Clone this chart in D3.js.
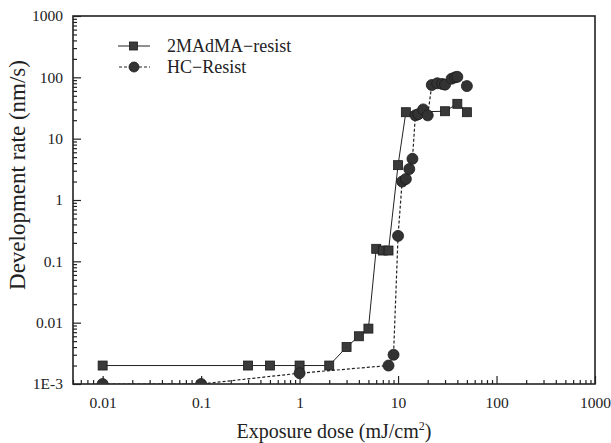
<!DOCTYPE html>
<html>
<head>
<meta charset="utf-8">
<script src="https://cdn.jsdelivr.net/npm/d3@7"></script>
<style>
  body { margin: 0; background: #fff; }
  text { font-family: "Liberation Serif", "DejaVu Serif", serif; fill: #222; }
</style>
</head>
<body>
<svg id="chart" width="611" height="443"></svg>
<script>
// 2MAdMA-resist (squares, solid line)
var madmaDose = [0.01, 0.3, 0.5, 1, 2, 3, 4, 5, 6, 7, 8, 10, 12, 30, 40, 50];
var madmaRate = [0.002, 0.002, 0.002, 0.002, 0.002, 0.004, 0.006, 0.008, 0.16, 0.15, 0.15, 3.7, 27, 28, 37, 27];
// HC-Resist (circles, dashed line)
var hcDose = [0.01, 0.1, 1, 8, 9, 10, 11, 12, 13, 14, 15, 16, 18, 20, 22, 25, 28, 30, 35, 38, 40, 50];
var hcRate = [0.001, 0.001, 0.0015, 0.002, 0.003, 0.26, 2.0, 2.2, 3.2, 4.7, 24, 25, 30, 24, 75, 80, 78, 76, 95, 100, 102, 72];

var xTicks = [0.01, 0.1, 1, 10, 100, 1000];
var xTickLabels = ["0.01", "0.1", "1", "10", "100", "1000"];
var yTicks = [0.001, 0.01, 0.1, 1, 10, 100, 1000];
var yTickLabels = ["1E-3", "0.01", "0.1", "1", "10", "100", "1000"];

var margin = {left: 73, right: 16, top: 16, bottom: 59};
var svg = d3.select("#chart");
var width = 611 - margin.left - margin.right;
var height = 443 - margin.top - margin.bottom;

var x = d3.scaleLog().domain([0.005, 1000]).range([0, width]);
var y = d3.scaleLog().domain([0.001, 1000]).range([height, 0]);

var g = svg.append("g").attr("transform", "translate(" + margin.left + "," + margin.top + ")");

svg.append("defs").append("clipPath").attr("id", "plotclip")
  .append("rect").attr("width", width).attr("height", height);

// minor tick values (2..9 in each decade)
function minors(lo, hi) {
  var out = [];
  for (var e = lo; e < hi; e++) {
    for (var m = 2; m <= 9; m++) {
      var v = m * Math.pow(10, e);
      out.push(+v.toPrecision(3));
    }
  }
  return out;
}
var xMinor = minors(-3, 3).filter(d => d >= 0.005 && d <= 1000);
var yMinor = minors(-3, 3);

// x axis
g.append("g").attr("class", "axis")
  .attr("transform", "translate(0," + height + ")")
  .call(d3.axisBottom(x).tickValues(xMinor).tickSize(-4).tickFormat(""));
g.append("g").attr("class", "axis")
  .attr("transform", "translate(0," + height + ")")
  .call(d3.axisBottom(x).tickValues(xTicks).tickSize(-8).tickPadding(13)
    .tickFormat((d, i) => xTickLabels[i]));

// y axis
g.append("g").attr("class", "axis")
  .call(d3.axisLeft(y).tickValues(yMinor).tickSize(-4).tickFormat(""));
g.append("g").attr("class", "axis")
  .call(d3.axisLeft(y).tickValues(yTicks).tickSize(-8).tickPadding(10)
    .tickFormat((d, i) => yTickLabels[i]));

g.selectAll(".axis .domain").remove();
g.selectAll(".axis line").attr("stroke", "#222").attr("stroke-width", 1.2);
g.selectAll(".axis text").style("font-size", "15.5px").attr("fill", "#222");

// frame
g.append("rect").attr("width", width).attr("height", height)
  .attr("fill", "none").attr("stroke", "#222").attr("stroke-width", 1.6);

// data
var madma = madmaDose.map((d, i) => ({x: d, y: madmaRate[i]}));
var hc = hcDose.map((d, i) => ({x: d, y: hcRate[i]}));

var line = d3.line().x(d => x(d.x)).y(d => y(d.y));
var plot = g.append("g").attr("clip-path", "url(#plotclip)");

plot.append("path").datum(madma).attr("d", line)
  .attr("fill", "none").attr("stroke", "#222").attr("stroke-width", 1);
plot.append("path").datum(hc).attr("d", line)
  .attr("fill", "none").attr("stroke", "#222").attr("stroke-width", 1.2)
  .attr("stroke-dasharray", "3,2");

plot.selectAll("rect.sq").data(madma).enter().append("rect").attr("class", "sq")
  .attr("x", d => x(d.x) - 4.5).attr("y", d => y(d.y) - 4.5)
  .attr("width", 9).attr("height", 9)
  .attr("fill", "#3a3a3a").attr("stroke", "#1a1a1a").attr("stroke-width", 0.8);

plot.selectAll("circle.dot").data(hc).enter().append("circle").attr("class", "dot")
  .attr("cx", d => x(d.x)).attr("cy", d => y(d.y)).attr("r", 5.5)
  .attr("fill", "#333").attr("stroke", "#1a1a1a").attr("stroke-width", 0.8);

// legend
var leg = svg.append("g").attr("transform", "translate(118,46)");
leg.append("line").attr("x1", 0).attr("x2", 32).attr("y1", 0).attr("y2", 0)
  .attr("stroke", "#222").attr("stroke-width", 1);
leg.append("rect").attr("x", 11.5).attr("y", -4).attr("width", 8).attr("height", 8)
  .attr("fill", "#3a3a3a").attr("stroke", "#1a1a1a").attr("stroke-width", 0.8);
leg.append("text").attr("x", 49).attr("y", 6).style("font-size", "18px").text("2MAdMA\u2212resist");

leg.append("line").attr("x1", 1).attr("x2", 32).attr("y1", 21).attr("y2", 21)
  .attr("stroke", "#222").attr("stroke-width", 1.2).attr("stroke-dasharray", "3,2");
leg.append("circle").attr("cx", 16).attr("cy", 21).attr("r", 5)
  .attr("fill", "#333").attr("stroke", "#1a1a1a").attr("stroke-width", 0.8);
leg.append("text").attr("x", 49).attr("y", 27).style("font-size", "18px").text("HC\u2212Resist");

// axis titles
var xt = svg.append("text").attr("x", margin.left + width / 2).attr("y", 438)
  .attr("text-anchor", "middle").style("font-size", "20px");
xt.append("tspan").text("Exposure dose (mJ/cm");
xt.append("tspan").attr("dy", -8).style("font-size", "12px").text("2");
xt.append("tspan").attr("dy", 8).text(")");

svg.append("text")
  .attr("transform", "translate(25," + (margin.top + height / 2 - 25) + ") rotate(-90)")
  .attr("text-anchor", "middle").style("font-size", "23px")
  .text("Development rate (nm/s)");
</script>
</body>
</html>
